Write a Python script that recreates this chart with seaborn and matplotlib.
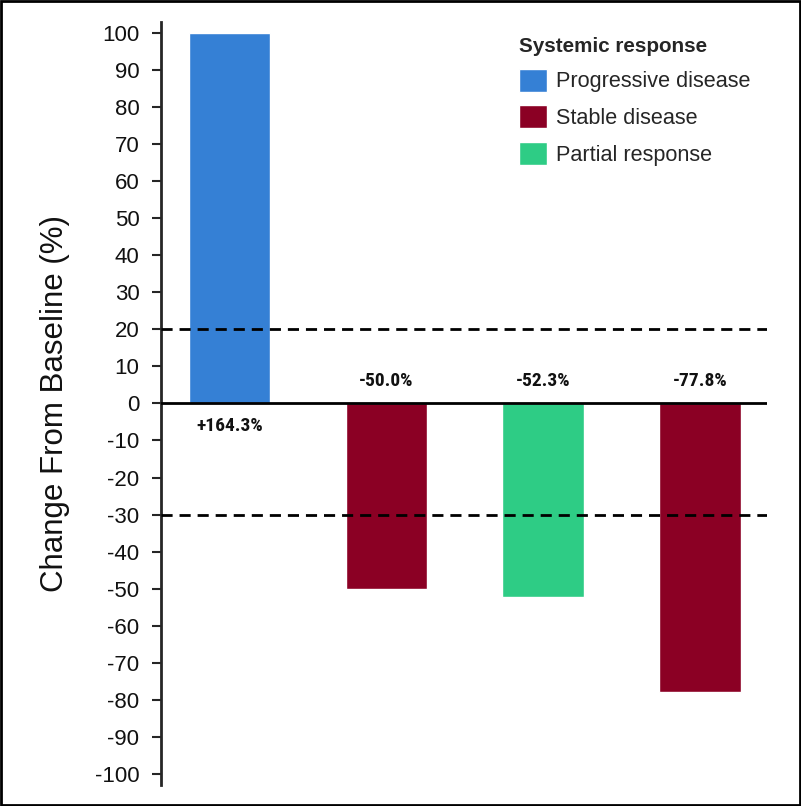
import numpy as np
import pandas as pd
import matplotlib
matplotlib.use('Agg')
import matplotlib.pyplot as plt
import seaborn as sns

# --- data ---
patients = ['P1', 'P2', 'P3', 'P4']
change_pct = [164.3, -50.0, -52.3, -77.8]
response = ['Progressive disease', 'Stable disease', 'Partial response', 'Stable disease']
response_order = ['Progressive disease', 'Stable disease', 'Partial response']
palette = {'Progressive disease': '#3580D5',
           'Stable disease': '#8B0024',
           'Partial response': '#2ECC85'}
y_ticks = list(range(-100, 101, 10))
thresholds = [20, -30]

df = pd.DataFrame({'patient': patients, 'change': change_pct, 'response': response})
# bars are cut off at the top of the axis (100%)
df['shown'] = df['change'].clip(upper=100)

sns.set_style('ticks')
plt.rcParams['font.family'] = ['Liberation Sans', 'DejaVu Sans']

fig = plt.figure(figsize=(8.01, 8.06), dpi=100)
ax = fig.add_axes([0.201, 0.026, 0.757, 0.947])

sns.barplot(data=df, x='patient', y='shown', hue='response', hue_order=response_order,
            palette=palette, dodge=False, width=0.52, saturation=1, ax=ax)

for y in thresholds:
    ax.axhline(y, color='black', linestyle=(0, (4, 2.5)), linewidth=2, zorder=3)
ax.axhline(0, color='black', linewidth=2, zorder=4)

# value labels (condensed bold in the original)
for i, v in enumerate(df['change']):
    txt = f'{v:+.1f}%' if v > 0 else f'{v:.1f}%'
    ypos = -6 if v > 0 else 6
    ax.text(i, ypos, txt, ha='center', va='center', fontsize=14, fontweight='bold',
            family=['Roboto Condensed', 'Liberation Sans'], color='#111111')

ax.set_ylim(-103, 103)
ax.set_xlim(-0.437, 3.43)
ax.set_yticks(y_ticks)
ax.set_yticklabels([str(t) for t in y_ticks], fontsize=16, color='#111111')
ax.tick_params(axis='y', length=6.5, width=1.5, pad=9)
ax.tick_params(axis='x', length=0, labelbottom=False)
ax.set_xlabel('')
ax.set_ylabel('Change From Baseline (%)', fontsize=22.5, color='#111111', labelpad=18)

for s in ['top', 'right', 'bottom']:
    ax.spines[s].set_visible(False)
ax.spines['left'].set_linewidth(2)

leg = ax.legend(title='Systemic response', loc='upper left', bbox_to_anchor=(0.559, 1.006),
                frameon=False, fontsize=15.6, handlelength=1.25, handleheight=1.25,
                handletextpad=0.45, labelspacing=0.6, alignment='left',
                title_fontproperties={'weight': 'bold', 'size': 14.9})

# thin frame around the whole figure
fig.patches.append(plt.Rectangle((0.001, 0.001), 0.998, 0.998, transform=fig.transFigure,
                                 fill=False, edgecolor='black', linewidth=2))

fig.savefig('out.png', dpi=100)
